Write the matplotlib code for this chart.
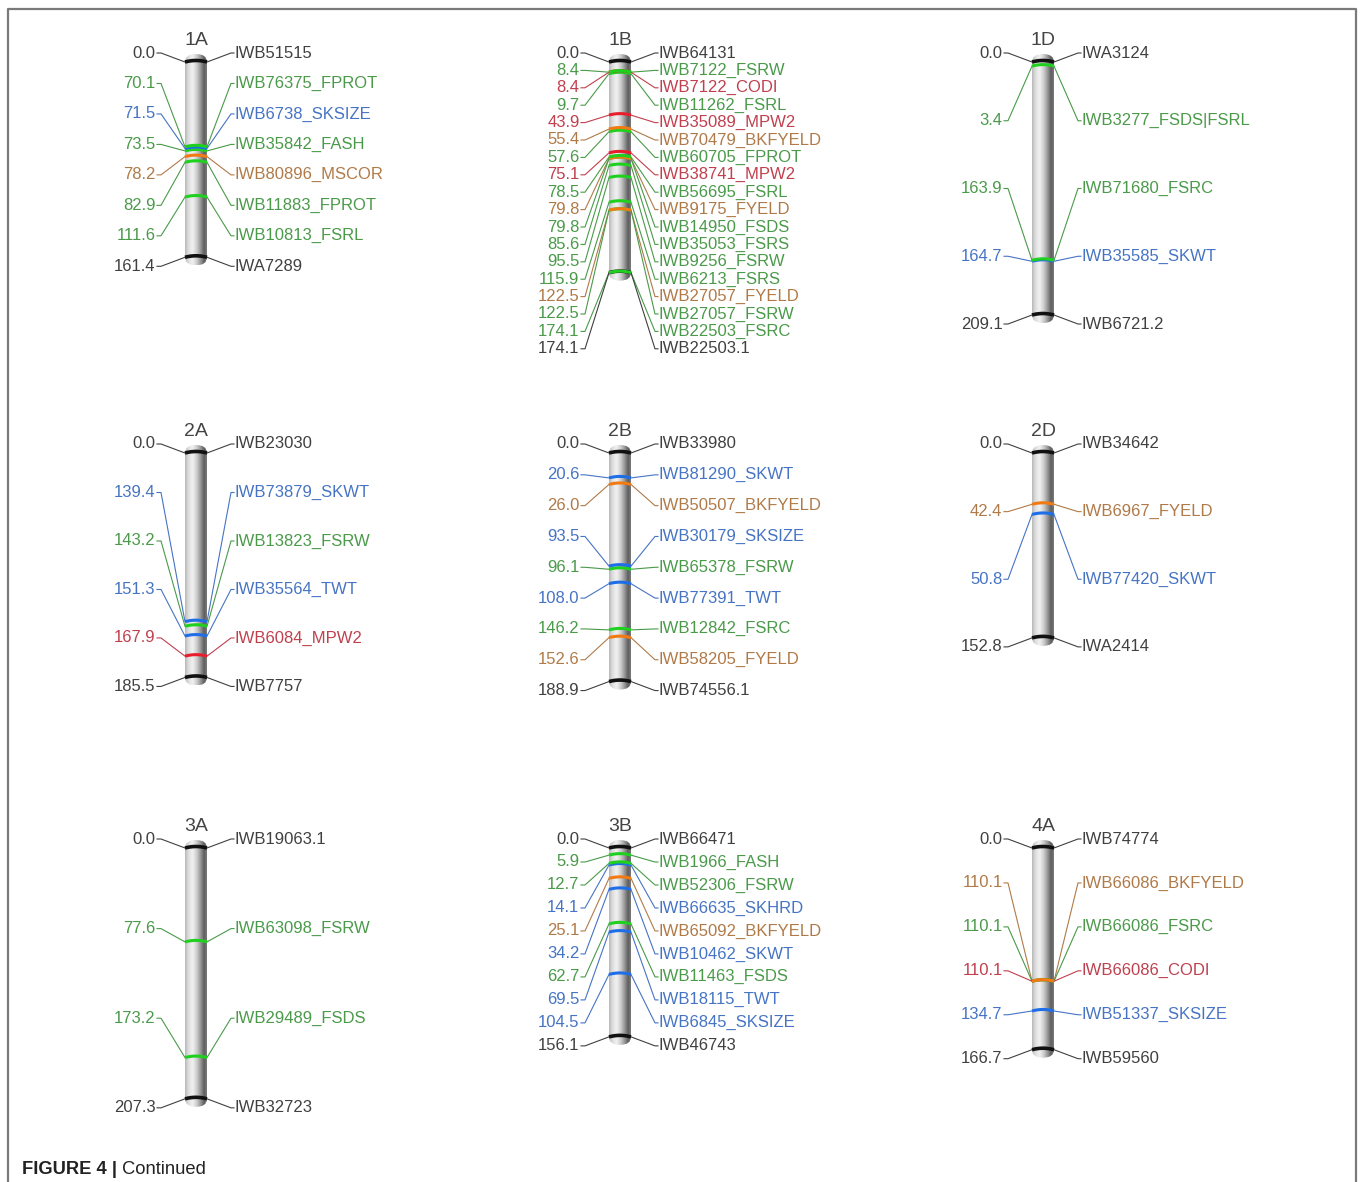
import matplotlib.pyplot as plt
import numpy as np
from matplotlib.colors import LinearSegmentedColormap
from matplotlib.patches import FancyBboxPatch

plt.rcParams['font.family'] = ['Liberation Sans', 'DejaVu Sans']

# marker positions (cM) and names, top to bottom, per chromosome
pos_1A = [0.0, 70.1, 71.5, 73.5, 78.2, 82.9, 111.6, 161.4]
mrk_1A = ["IWB51515", "IWB76375_FPROT", "IWB6738_SKSIZE", "IWB35842_FASH",
          "IWB80896_MSCOR", "IWB11883_FPROT", "IWB10813_FSRL", "IWA7289"]

pos_1B = [0.0, 8.4, 8.4, 9.7, 43.9, 55.4, 57.6, 75.1, 78.5, 79.8, 79.8,
          85.6, 95.5, 115.9, 122.5, 122.5, 174.1, 174.1]
mrk_1B = ["IWB64131", "IWB7122_FSRW", "IWB7122_CODI", "IWB11262_FSRL",
          "IWB35089_MPW2", "IWB70479_BKFYELD", "IWB60705_FPROT", "IWB38741_MPW2",
          "IWB56695_FSRL", "IWB9175_FYELD", "IWB14950_FSDS", "IWB35053_FSRS",
          "IWB9256_FSRW", "IWB6213_FSRS", "IWB27057_FYELD", "IWB27057_FSRW",
          "IWB22503_FSRC", "IWB22503.1"]

pos_1D = [0.0, 3.4, 163.9, 164.7, 209.1]
mrk_1D = ["IWA3124", "IWB3277_FSDS|FSRL", "IWB71680_FSRC", "IWB35585_SKWT", "IWB6721.2"]

pos_2A = [0.0, 139.4, 143.2, 151.3, 167.9, 185.5]
mrk_2A = ["IWB23030", "IWB73879_SKWT", "IWB13823_FSRW", "IWB35564_TWT",
          "IWB6084_MPW2", "IWB7757"]

pos_2B = [0.0, 20.6, 26.0, 93.5, 96.1, 108.0, 146.2, 152.6, 188.9]
mrk_2B = ["IWB33980", "IWB81290_SKWT", "IWB50507_BKFYELD", "IWB30179_SKSIZE",
          "IWB65378_FSRW", "IWB77391_TWT", "IWB12842_FSRC", "IWB58205_FYELD",
          "IWB74556.1"]

pos_2D = [0.0, 42.4, 50.8, 152.8]
mrk_2D = ["IWB34642", "IWB6967_FYELD", "IWB77420_SKWT", "IWA2414"]

pos_3A = [0.0, 77.6, 173.2, 207.3]
mrk_3A = ["IWB19063.1", "IWB63098_FSRW", "IWB29489_FSDS", "IWB32723"]

pos_3B = [0.0, 5.9, 12.7, 14.1, 25.1, 34.2, 62.7, 69.5, 104.5, 156.1]
mrk_3B = ["IWB66471", "IWB1966_FASH", "IWB52306_FSRW", "IWB66635_SKHRD",
          "IWB65092_BKFYELD", "IWB10462_SKWT", "IWB11463_FSDS", "IWB18115_TWT",
          "IWB6845_SKSIZE", "IWB46743"]

pos_4A = [0.0, 110.1, 110.1, 110.1, 134.7, 166.7]
mrk_4A = ["IWB74774", "IWB66086_BKFYELD", "IWB66086_FSRC", "IWB66086_CODI",
          "IWB51337_SKSIZE", "IWB59560"]

chromosomes = [("1A", pos_1A, mrk_1A), ("1B", pos_1B, mrk_1B), ("1D", pos_1D, mrk_1D),
               ("2A", pos_2A, mrk_2A), ("2B", pos_2B, mrk_2B), ("2D", pos_2D, mrk_2D),
               ("3A", pos_3A, mrk_3A), ("3B", pos_3B, mrk_3B), ("4A", pos_4A, mrk_4A)]

# trait groups -> (text/line colour, band colour)
green_traits = ["FPROT", "FASH", "FSRL", "FSRW", "FSDS", "FSRS", "FSRC", "FSDS|FSRL"]
blue_traits = ["SKSIZE", "SKWT", "TWT", "SKHRD"]
brown_traits = ["MSCOR", "BKFYELD", "FYELD"]
red_traits = ["CODI", "MPW2"]


def trait_colors(marker):
    if "_" not in marker:
        return "#404040", "#111111"
    trait = marker.split("_", 1)[1]
    if trait in green_traits:
        return "#4a9a4a", "#1fd01f"
    if trait in blue_traits:
        return "#4674c4", "#1e6ee8"
    if trait in brown_traits:
        return "#b07a48", "#f27a12"
    return "#c0404e", "#e81e2c"


W, H = 1360, 1182
S = 1.21              # pixels per cM
col_x = [196, 620, 1043]
row_top = [62, 453, 848]
half_w = 11
cap = 8 / S
pad = 9 / S
min_gap = 17.4 / S
arc = 1.5 / S
ylo, yhi = -30, 250
xhalf = 200
fs = 12

chrom_cmap = LinearSegmentedColormap.from_list("chrom", [
    (0.0, "#b8b8b8"), (0.15, "#dedede"), (0.35, "#f2f2f2"), (0.55, "#cacaca"),
    (0.75, "#8c8c8c"), (0.88, "#5c5c5c"), (1.0, "#7c7c7c")])

fig = plt.figure(figsize=(W / 100, H / 100), dpi=100)
bg = fig.add_axes([0, 0, 1, 1])
bg.set_xlim(0, W)
bg.set_ylim(H, 0)
bg.axis("off")
bg.plot([8, 8, 1355.5, 1355.5], [H + 5, 9, 9, H + 5], color="#7a7a7a", lw=1.6)
cap_txt = bg.text(22, 1169, "FIGURE 4 |", fontsize=13.2, fontweight="bold",
                  va="center", color="#222222")
bg.annotate(" Continued", xy=(1, 0.5), xycoords=cap_txt, va="center",
            fontsize=13.2, color="#222222")


def draw_chrom(name, pos, mrk, cx, top):
    ax = fig.add_axes([(cx - xhalf) / W, 1 - (top + yhi * S) / H,
                       2 * xhalf / W, (yhi - ylo) * S / H])
    ax.set_xlim(-xhalf, xhalf)
    ax.set_ylim(yhi, ylo)
    ax.axis("off")
    length = pos[-1]

    # shaded cylinder with rounded ends
    body = FancyBboxPatch((-half_w, -cap), 2 * half_w, length + 2 * cap,
                          boxstyle=f"round,pad=0,rounding_size={half_w}",
                          mutation_aspect=cap / half_w, transform=ax.transData,
                          facecolor="none", edgecolor="none")
    ax.add_patch(body)
    im = ax.imshow(np.linspace(0, 1, 60).reshape(1, -1), cmap=chrom_cmap,
                   extent=[-half_w, half_w, length + cap, -cap], aspect="auto",
                   interpolation="bicubic", zorder=1)
    im.set_clip_path(body)

    ax.text(0, -17.5, name, ha="center", va="center", fontsize=14, color="#444444")

    n = len(pos)
    span = max(length + 2 * pad, (n - 1) * min_gap)
    label_y = -pad + np.arange(n) * span / (n - 1)
    xs = np.linspace(-half_w, half_w, 21)
    for i, (p, m, ly) in enumerate(zip(pos, mrk, label_y)):
        tcol, bcol = trait_colors(m)
        ax.plot([-39, -35, -half_w], [ly, ly, p], color=tcol, lw=0.8, zorder=2)
        ax.plot([half_w, 35, 38], [p, ly, ly], color=tcol, lw=0.8, zorder=2)
        ax.text(-40.5, ly, f"{p:.1f}", ha="right", va="center", fontsize=fs, color=tcol)
        ax.text(38.5, ly, m, ha="left", va="center", fontsize=fs, color=tcol)
        lw = 2.6 if "_" not in m else 2.2
        ax.plot(xs, p - arc * (1 - (xs / half_w) ** 2), color=bcol, lw=lw,
                solid_capstyle="butt", zorder=3 + (n - i) * 0.01)


for k, (name, pos, mrk) in enumerate(chromosomes):
    draw_chrom(name, pos, mrk, col_x[k % 3], row_top[k // 3])

fig.savefig("out.png", dpi=100)
